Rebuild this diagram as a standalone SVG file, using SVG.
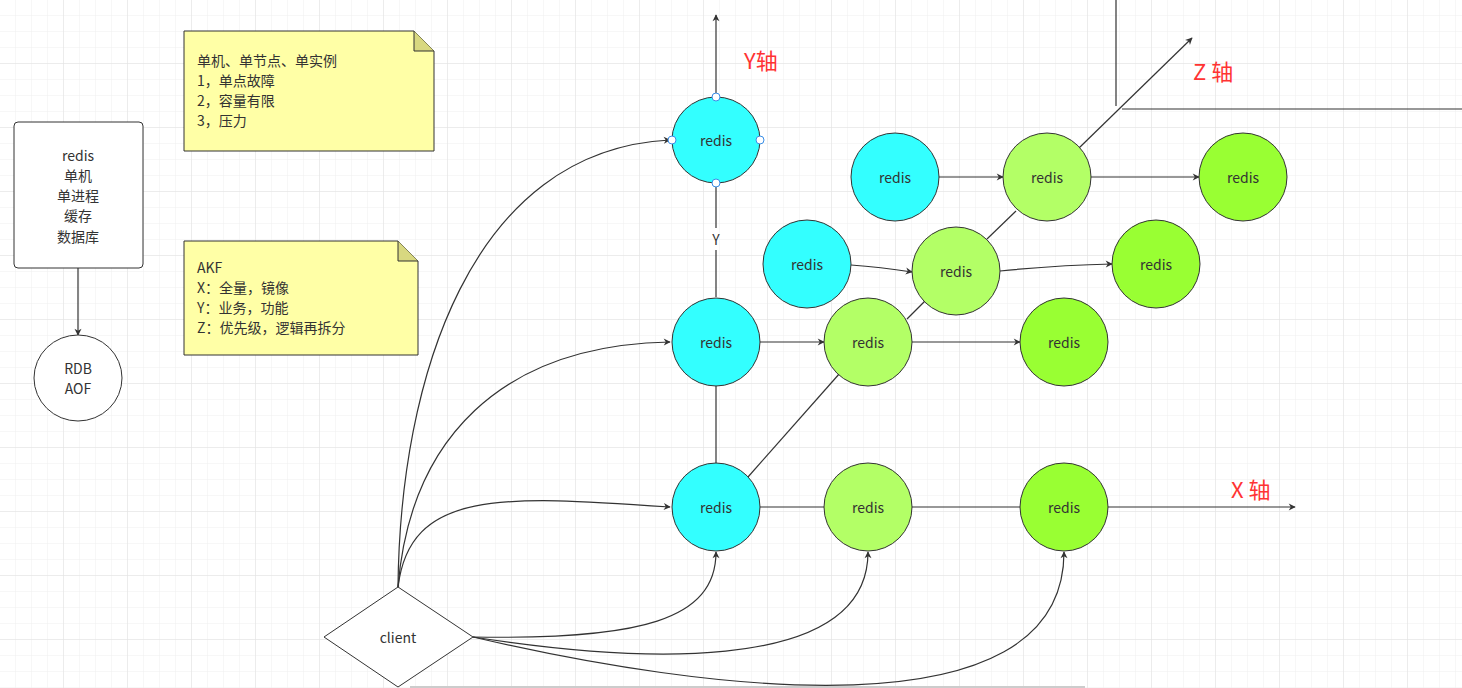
<svg xmlns="http://www.w3.org/2000/svg" width="1462" height="688" viewBox="0 0 1462 688">
<defs>
<pattern id="g" width="16" height="16" patternUnits="userSpaceOnUse"><path d="M16 0V16H0" fill="none" stroke="#efefef" stroke-width="1"/></pattern>
<pattern id="G" width="64" height="64" patternUnits="userSpaceOnUse"><rect width="64" height="64" fill="url(#g)"/><path d="M64 0V64H0" fill="none" stroke="#e2e2e2" stroke-width="1"/></pattern>
<marker id="a" viewBox="0 0 10 10" refX="9" refY="5" markerWidth="7" markerHeight="7" orient="auto" markerUnits="userSpaceOnUse" style="overflow:visible"><path d="M0 0L10 5L0 10L3 5Z" fill="#333"/></marker>
</defs>
<style>
text{font-family:"Noto Sans CJK SC","Liberation Sans",sans-serif;font-size:14px;fill:#333}
.c{text-anchor:middle;dominant-baseline:central}
.n{stroke:#333;stroke-width:1}
.cy{fill:#33ffff}.lg{fill:#b3ff66}.gr{fill:#99ff33}
.l{fill:none;stroke:#333;stroke-width:1.2}
.ar{marker-end:url(#a)}
.ax{fill:#ff3333;font-size:22px}
</style>
<rect width="1462" height="688" fill="#fff"/>
<rect width="1462" height="688" fill="url(#G)"/>
<g id="connectors">
<path class="l ar" d="M716 97V15"/>
<path class="l" d="M716 183V228M716 250V297"/>
<path class="l" d="M716 385V464"/>
<path class="l ar" d="M760 507H1295"/>
<path class="l" d="M748 477L840 373"/>
<path class="l" d="M907 319L930 296"/>
<path class="l" d="M987 239L1016 211"/>
<path class="l ar" d="M1079 148L1192 38"/>
<path class="l ar" d="M760 342H824"/>
<path class="l ar" d="M912 342H1020"/>
<path class="l ar" d="M851 265Q880 267 912 272"/>
<path class="l ar" d="M1000 271Q1060 265 1112 264"/>
<path class="l ar" d="M939 177H1003"/>
<path class="l ar" d="M1091 177H1199"/>
<path class="l" d="M1116 0V106M1122 109H1462"/>
<path class="l ar" d="M398 587C400 380 470 150 670 140"/>
<path class="l ar" d="M398 587C410 440 500 345 670 342"/>
<path class="l ar" d="M398 587C410 490 500 495 670 507"/>
<path class="l ar" d="M473 637C640 640 716 620 716 552"/>
<path class="l ar" d="M473 637C620 660 868 680 868 552"/>
<path class="l ar" d="M473 637C700 690 1064 740 1064 552"/>
<path class="l ar" d="M78 268V335"/>
<path d="M410 687H1085" stroke="#ccc" stroke-width="2"/>
</g>
<text class="c" x="716" y="239">Y</text>
<text class="ax" x="744" y="69">Y轴</text>
<text class="ax" x="1193" y="80">Z 轴</text>
<text class="ax" x="1231" y="498">X 轴</text>
<g id="box"><rect class="n" x="14" y="122" width="129" height="146" rx="4" fill="#fff"/>
<text class="c" x="78" y="155">redis</text><text class="c" x="78" y="175">单机</text><text class="c" x="78" y="195">单进程</text><text class="c" x="78" y="215">缓存</text><text class="c" x="78" y="236">数据库</text></g>
<g id="rdb"><ellipse class="n" cx="78" cy="378" rx="44" ry="43" fill="#fff"/><text class="c" x="78" y="368">RDB</text><text class="c" x="78" y="388">AOF</text></g>
<g id="note1"><path class="n" d="M184 31H414L434 51V151H184Z" fill="#ffffa6"/><path class="n" d="M414 31V51H434" fill="#d8d880"/>
<text x="197" y="66">单机、单节点、单实例</text><text x="197" y="86">1，单点故障</text><text x="197" y="106">2，容量有限</text><text x="197" y="126">3，压力</text></g>
<g id="note2"><path class="n" d="M184 241H398L418 261V355H184Z" fill="#ffffa6"/><path class="n" d="M398 241V261H418" fill="#d8d880"/>
<text x="197" y="273">AKF</text><text x="197" y="293">X：全量，镜像</text><text x="197" y="313">Y：业务，功能</text><text x="197" y="333">Z：优先级，逻辑再拆分</text></g>
<g id="client"><path class="n" d="M398 587L473 637L398 687L324 637Z" fill="#fff"/><text class="c" x="398" y="637">client</text></g>
<g id="r1"><ellipse class="n cy" cx="716" cy="140" rx="44" ry="43"/><text class="c" x="716" y="140">redis</text>
<g fill="#fff" stroke="#3a8ee6"><circle cx="716" cy="97" r="4"/><circle cx="716" cy="183" r="4"/><circle cx="760" cy="140" r="4"/><circle cx="672" cy="140" r="4"/></g></g>
<g id="r2"><ellipse class="n cy" cx="716" cy="342" rx="44" ry="44"/><text class="c" x="716" y="342">redis</text></g>
<g id="r3"><ellipse class="n cy" cx="716" cy="507" rx="44" ry="44"/><text class="c" x="716" y="507">redis</text></g>
<g id="r4"><ellipse class="n lg" cx="868" cy="342" rx="44" ry="44"/><text class="c" x="868" y="342">redis</text></g>
<g id="r5"><ellipse class="n gr" cx="1064" cy="342" rx="44" ry="44"/><text class="c" x="1064" y="342">redis</text></g>
<g id="r6"><ellipse class="n lg" cx="868" cy="507" rx="44" ry="44"/><text class="c" x="868" y="507">redis</text></g>
<g id="r7"><ellipse class="n gr" cx="1064" cy="507" rx="44" ry="44"/><text class="c" x="1064" y="507">redis</text></g>
<g id="r8"><ellipse class="n cy" cx="807" cy="264" rx="44" ry="44"/><text class="c" x="807" y="264">redis</text></g>
<g id="r9"><ellipse class="n lg" cx="956" cy="271" rx="44" ry="44"/><text class="c" x="956" y="271">redis</text></g>
<g id="r10"><ellipse class="n gr" cx="1156" cy="264" rx="44" ry="44"/><text class="c" x="1156" y="264">redis</text></g>
<g id="r11"><ellipse class="n cy" cx="895" cy="177" rx="44" ry="44"/><text class="c" x="895" y="177">redis</text></g>
<g id="r12"><ellipse class="n lg" cx="1047" cy="177" rx="44" ry="44"/><text class="c" x="1047" y="177">redis</text></g>
<g id="r13"><ellipse class="n gr" cx="1243" cy="177" rx="44" ry="44"/><text class="c" x="1243" y="177">redis</text></g>
</svg>
